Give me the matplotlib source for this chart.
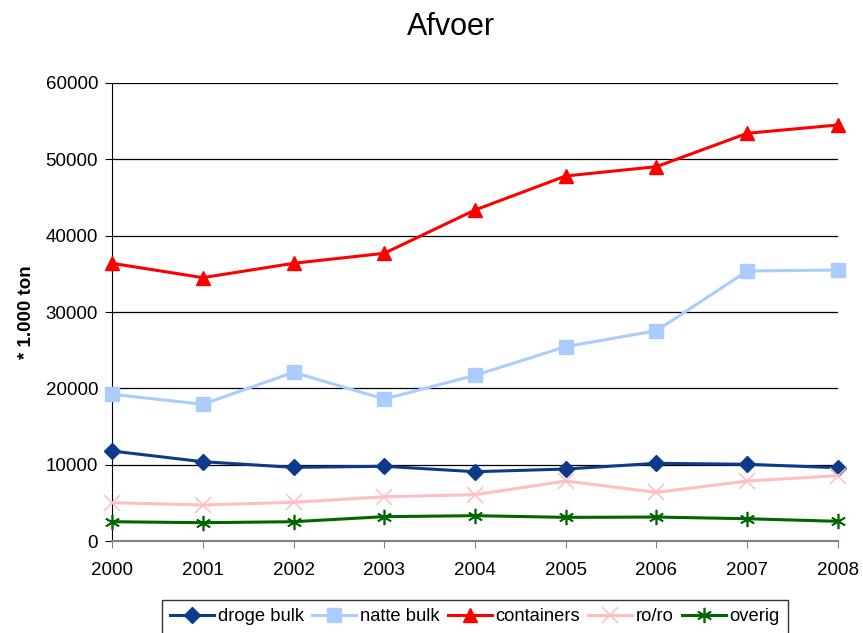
import matplotlib
matplotlib.use("Agg")
import matplotlib.pyplot as plt

plt.rcParams['font.family'] = ['Liberation Sans', 'DejaVu Sans']

years = [2000, 2001, 2002, 2003, 2004, 2005, 2006, 2007, 2008]
droge_bulk = [11790, 10390, 9650, 9790, 9080, 9430, 10180, 10050, 9600]
natte_bulk = [19220, 17910, 22100, 18600, 21700, 25460, 27550, 35370, 35500]
containers = [36380, 34500, 36380, 37690, 43360, 47820, 49040, 53410, 54500]
ro_ro = [5020, 4720, 5070, 5800, 6070, 7860, 6380, 7860, 8560]
overig = [2530, 2400, 2530, 3190, 3320, 3100, 3140, 2920, 2580]

series = [
    ("droge bulk", droge_bulk, "#0c3b8c", "D", 8.5, 1),
    ("natte bulk", natte_bulk, "#aaccff", "s", 9.5, 1),
    ("containers", containers, "#ff0000", "^", 10.5, 1),
    ("ro/ro", ro_ro, "#ffbfbf", "x", 11, 1.1),
    ("overig", overig, "#006600", (6, 2, 0), 11, 1.2),
]

fig = plt.figure(figsize=(8.63, 6.33), dpi=100)
ax = fig.add_axes([0.1298, 0.1453, 0.9710 - 0.1298, 0.8689 - 0.1453])

for name, vals, color, marker, ms, mew in series:
    ax.plot(years, vals, color=color, lw=2.2, marker=marker, ms=ms,
            mew=mew, label=name, clip_on=False, zorder=3)

ax.set_xlim(2000, 2008)
ax.set_ylim(0, 60000)
ax.set_xticks(years)
ax.set_yticks(range(0, 60001, 10000))
ax.tick_params(axis='both', labelsize=13.5, length=5, direction='out', colors='black')
ax.tick_params(axis='x', color='#808080', pad=10)
ax.tick_params(axis='y', pad=5)
ax.yaxis.grid(True, color='black', lw=0.9)
ax.set_axisbelow(True)
for s in ['top', 'right']:
    ax.spines[s].set_visible(False)
ax.spines['left'].set_color('black')
ax.spines['bottom'].set_color('#808080')
ax.spines['bottom'].set_linewidth(1.5)

ax.set_ylabel("* 1.000 ton", fontsize=13.5, fontweight='bold')
ax.yaxis.set_label_coords(-0.106, 0.5)
fig.text(0.5226, 0.958, "Afvoer", ha='center', va='center', fontsize=22)

leg = fig.legend(loc='upper center', bbox_to_anchor=(0.5505, 0.052), ncol=5,
                 fontsize=13.2, frameon=True, fancybox=False, edgecolor='black',
                 handlelength=2.4, handletextpad=0.2, columnspacing=0.45,
                 borderpad=0.45, borderaxespad=0)
leg.get_frame().set_linewidth(1.0)

fig.savefig("out.png", dpi=100)
